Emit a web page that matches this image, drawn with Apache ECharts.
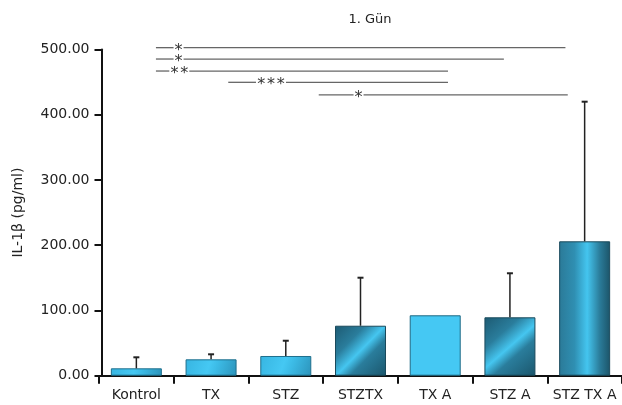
<!DOCTYPE html>
<html>
<head>
<meta charset="utf-8">
<script src="https://cdn.jsdelivr.net/npm/echarts@6/dist/echarts.min.js"></script>
<style>html,body{margin:0;padding:0;background:#fff}#c{width:622px;height:405px}</style>
</head>
<body>
<div id="c"></div>
<script>
// ---- data ----
const categories = ['Kontrol', 'TX', 'STZ', 'STZTX', 'TX A', 'STZ A', 'STZ TX A'];
const means = [11.3, 25.1, 30.2, 76.6, 92.6, 89.5, 206];
const errUpper = [28.2, 32.8, 53.6, 150.2, null, 157, 420];
const yTicks = [0, 100, 200, 300, 400, 500];
// significance brackets (positions in category units, level in pg/ml)
const bracketFrom = [0.762, 0.762, 0.762, 1.730, 2.941];
const bracketTo = [6.243, 5.419, 4.671, 4.671, 6.274];
const bracketLevel = [502.8, 485.4, 467.0, 449.7, 430.3];
const bracketStarAt = [1.065, 1.065, 1.075, 2.302, 3.474];
const bracketStars = ['*', '*', '**', '***', '*'];

// ---- styles ----
const FONT = 'DejaVu Sans';
function lg(x2, y2, stops) {
  return new echarts.graphic.LinearGradient(0, 0, x2, y2, stops.map((c) => ({offset: c[0], color: c[1]})));
}
const lightGrad = () => lg(1, 1, [[0, '#37b5e1'], [0.45, '#45c8f3'], [0.6, '#3cbbe6'], [1, '#2c93ba']]);
const darkGrad = () => lg(1, 1, [[0, '#1d5a72'], [0.3, '#2a7d9c'], [0.5, '#45c6f0'], [0.64, '#2a7d9c'], [1, '#1b566c']]);
const tallGrad = () => lg(1, 0, [[0, '#2b7a98'], [0.3, '#2f8fb2'], [0.55, '#44c5ef'], [0.8, '#2a7b99'], [1, '#1c5468']]);
const barStyles = [
  {color: lightGrad(), borderColor: '#1f6f8c', borderWidth: 1},
  {color: lightGrad(), borderColor: '#1f6f8c', borderWidth: 1},
  {color: lightGrad(), borderColor: '#1f6f8c', borderWidth: 1},
  {color: darkGrad(), borderColor: '#1a4a5c', borderWidth: 1},
  {color: '#45c8f3', borderColor: '#1f6a85', borderWidth: 1},
  {color: darkGrad(), borderColor: '#1a4a5c', borderWidth: 1},
  {color: tallGrad(), borderColor: '#1a4a5c', borderWidth: 1}
];

const chart = echarts.init(document.getElementById('c'), null, {renderer: 'canvas'});
const option = {
  animation: false,
  backgroundColor: '#fff',
  title: {
    text: '1. Gün', left: 365, top: 8, textAlign: 'center',
    textStyle: {fontFamily: FONT, fontSize: 13, fontWeight: 'normal', color: '#222'}
  },
  grid: {left: 99, top: 49.5, width: 530, height: 326.2, containLabel: false},
  xAxis: [{
    type: 'category', data: categories,
    axisLine: {lineStyle: {color: '#111', width: 2}},
    axisTick: {show: true, interval: 0, alignWithLabel: false, length: 8, lineStyle: {color: '#111', width: 2}},
    axisLabel: {interval: 0, fontFamily: FONT, fontSize: 14, color: '#222', margin: 13, hideOverlap: false}
  }, {
    type: 'value', min: 0, max: 7, show: false
  }],
  yAxis: [{
    type: 'value', min: yTicks[0], max: yTicks[yTicks.length - 1], interval: 100,
    offset: -2.5,
    name: 'IL-1β (pg/ml)', nameLocation: 'middle', nameGap: 76,
    nameTextStyle: {fontFamily: FONT, fontSize: 14, color: '#222'},
    axisLine: {show: true, lineStyle: {color: '#111', width: 2}},
    axisTick: {show: true, length: 7, lineStyle: {color: '#111', width: 2}},
    axisLabel: {fontFamily: FONT, fontSize: 14, color: '#222', margin: 12, formatter: v => v.toFixed(2)},
    splitLine: {show: false}
  }],
  series: [{
    type: 'bar', barWidth: 51,
    data: means.map((v, i) => ({value: v, itemStyle: barStyles[i]}))
  }, {
    type: 'custom', xAxisIndex: 0, yAxisIndex: 0, z: 3,
    data: means.map((m, i) => [i, m, errUpper[i] == null ? m : errUpper[i]]),
    renderItem: function (params, api) {
      const i = api.value(0);
      if (errUpper[i] == null) return null;
      const p0 = api.coord([i, api.value(1)]);
      const p1 = api.coord([i, api.value(2)]);
      const st = {stroke: '#222', lineWidth: 1.5};
      return {type: 'group', children: [
        {type: 'line', shape: {x1: p0[0], y1: p0[1], x2: p1[0], y2: p1[1]}, style: st},
        {type: 'line', shape: {x1: p1[0] - 3, y1: p1[1], x2: p1[0] + 3, y2: p1[1]}, style: {stroke: '#222', lineWidth: 2}}
      ]};
    }
  }, {
    type: 'custom', xAxisIndex: 1, yAxisIndex: 0, z: 4, clip: false,
    data: bracketFrom.map((f, i) => [f, bracketTo[i], bracketLevel[i], bracketStarAt[i]]),
    renderItem: function (params, api) {
      const idx = params.dataIndex;
      const a = api.coord([api.value(0), api.value(2)]);
      const b = api.coord([api.value(1), api.value(2)]);
      const s = api.coord([api.value(3), api.value(2)]);
      const n = bracketStars[idx].length;
      const half = 5 * n;
      const st = {stroke: '#666', lineWidth: 1.3};
      const children = [
        {type: 'line', shape: {x1: a[0], y1: a[1], x2: s[0] - half, y2: a[1]}, style: st},
        {type: 'line', shape: {x1: s[0] + half, y1: a[1], x2: b[0], y2: a[1]}, style: st}
      ];
      for (let k = 0; k < n; k++) {
        const cx = s[0] + (k - (n - 1) / 2) * 9.8;
        children.push({type: 'text', style: {
          text: '*', x: cx, y: a[1] + 3, fill: '#333',
          fontSize: 16, fontFamily: FONT, align: 'center', verticalAlign: 'middle'
        }});
      }
      return {type: 'group', children: children};
    }
  }]
};
chart.setOption(option);
</script>
</body>
</html>
